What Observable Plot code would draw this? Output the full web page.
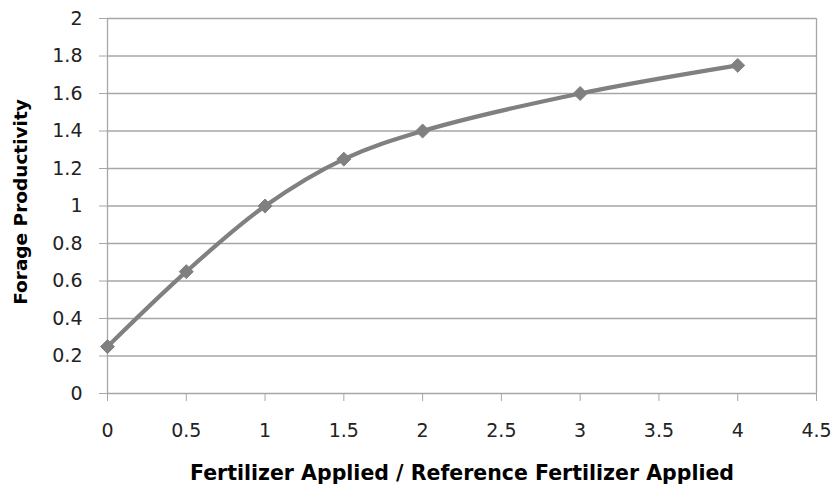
<!DOCTYPE html>
<html>
<head>
<meta charset="utf-8">
<script src="https://cdn.jsdelivr.net/npm/d3@7"></script>
<script src="https://cdn.jsdelivr.net/npm/@observablehq/plot@0.6"></script>
<style>
  html, body { margin: 0; padding: 0; background: #fff; }
</style>
</head>
<body>
<div id="chart"></div>
<script>
// Forage productivity response to relative fertilizer application
const fertilizerRatio = [0, 0.5, 1, 1.5, 2, 3, 4];
const productivity = [0.25, 0.65, 1.0, 1.25, 1.4, 1.6, 1.75];
const xTicks = [0, 0.5, 1, 1.5, 2, 2.5, 3, 3.5, 4, 4.5];
const yTicks = [0, 0.2, 0.4, 0.6, 0.8, 1, 1.2, 1.4, 1.6, 1.8, 2];
const xTitle = "Fertilizer Applied / Reference Fertilizer Applied";
const yTitle = "Forage Productivity";

const points = fertilizerRatio.map((x, i) => ({x, y: productivity[i]}));

const gridColor = "#a6a6a6";
const seriesColor = "#808080";
const font = "'DejaVu Sans', sans-serif";

const chart = Plot.plot({
  width: 833,
  height: 495,
  marginLeft: 107,
  marginRight: 17,
  marginTop: 18,
  marginBottom: 102,
  style: {fontFamily: font, fontSize: "19px", background: "#fff"},
  x: {domain: [0, 4.5]},
  y: {domain: [0, 2]},
  marks: [
    Plot.gridY(yTicks, {stroke: gridColor, strokeOpacity: 1, strokeWidth: 1.3}),
    Plot.ruleX([0, 4.5], {stroke: gridColor, strokeWidth: 1.3}),
    Plot.axisY(yTicks, {
      tickSize: 8, tickPadding: 17, stroke: gridColor, fill: "#222",
      fontSize: 19, fontFamily: font,
      tickFormat: d => String(d), label: null
    }),
    Plot.axisX(xTicks, {
      tickSize: 8, tickPadding: 22, stroke: gridColor, fill: "#222",
      fontSize: 19, fontFamily: font,
      tickFormat: d => String(d), label: null
    }),
    Plot.line(points, {
      x: "x", y: "y", curve: "catmull-rom",
      stroke: seriesColor, strokeWidth: 4.2
    }),
    Plot.dot(points, {
      x: "x", y: "y", symbol: "diamond2", r: 6.3,
      fill: seriesColor, stroke: seriesColor, strokeWidth: 1
    }),
    Plot.text([xTitle], {
      frameAnchor: "bottom", dy: 86, text: d => d, textAnchor: "middle",
      fontFamily: font, fontWeight: "bold", fontSize: 20.5, fill: "#000"
    }),
    Plot.text([yTitle], {
      frameAnchor: "left", dx: -86, dy: -4, rotate: -90, text: d => d,
      textAnchor: "middle",
      fontFamily: font, fontWeight: "bold", fontSize: 18.5, fill: "#000"
    })
  ]
});

document.getElementById("chart").appendChild(chart);
</script>
</body>
</html>
